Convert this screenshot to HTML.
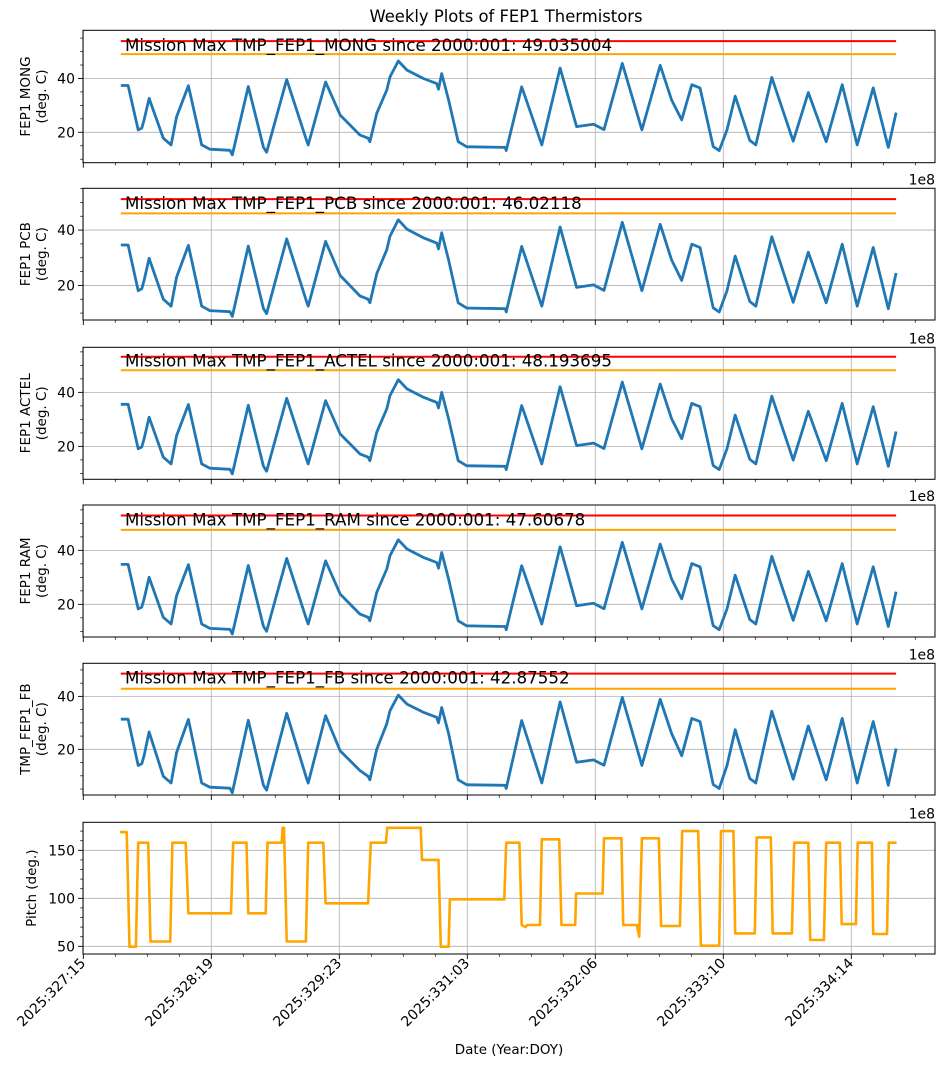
<!DOCTYPE html>
<html><head><meta charset="utf-8">
<style>
html,body{margin:0;padding:0;background:#fff;}
svg{display:block;font-family:"DejaVu Sans","Liberation Sans",sans-serif;}
</style></head>
<body>
<svg id="fig" width="944" height="1066" viewBox="0 0 944 1066" xmlns="http://www.w3.org/2000/svg">
<rect width="944" height="1066" fill="#fff"/>
<text x="506" y="22" font-size="16.4" text-anchor="middle">Weekly Plots of FEP1 Thermistors</text>
<text x="509" y="1054" font-size="13.5" text-anchor="middle">Date (Year:DOY)</text>
</svg>
<script>
// hours since 2025:327:15
const tempTimes = [8.2,9.8,12.0,12.8,13.3,14.4,17.5,19.2,20.4,23.0,25.9,27.7,32.1,32.6,36.1,39.4,40.1,44.5,48.9,49.2,53.0,56.2,60.5,62.3,62.7,64.2,66.4,67.1,68.9,70.8,74.4,77.3,77.7,78.4,79.9,82.0,83.9,84.6,92.3,92.5,95.9,100.3,104.3,107.9,111.6,113.9,117.9,122.2,126.2,128.7,130.9,133.1,134.9,137.8,139.1,140.8,142.6,145.8,147.1,150.6,155.3,158.6,162.5,166.0,169.3,172.8,176.1,177.8];
const mongValues = [37.4,37.4,20.9,21.6,24.6,32.6,17.8,15.3,25.8,37.3,15.3,13.7,13.3,11.6,37.0,14.5,12.6,39.6,16.7,15.3,38.7,26.4,19.0,17.8,16.5,27.1,35.7,40.6,46.5,43.1,40.0,38.1,36.0,41.8,32.0,16.5,14.6,14.6,14.4,13.2,36.9,15.3,43.9,22.1,23.0,21.0,45.6,20.9,44.9,32.0,24.6,37.7,36.5,14.7,13.2,20.9,33.4,17.0,15.3,40.4,16.7,34.8,16.5,37.7,15.3,36.5,14.4,27.3];
const pcbValues = [34.6,34.6,18.1,18.8,21.8,29.8,15.0,12.5,23.0,34.5,12.5,10.9,10.5,8.8,34.2,11.7,9.8,36.8,13.9,12.5,35.9,23.6,16.2,15.0,13.7,24.3,32.9,37.8,43.7,40.3,37.2,35.3,33.2,39.0,29.2,13.7,11.8,11.8,11.6,10.4,34.1,12.5,41.1,19.3,20.2,18.2,42.8,18.1,42.1,29.2,21.8,34.9,33.7,11.9,10.4,18.1,30.6,14.2,12.5,37.6,13.9,32.0,13.7,34.9,12.5,33.7,11.6,24.5];
const actelValues = [35.6,35.6,19.1,19.8,22.8,30.8,16.0,13.5,24.0,35.5,13.5,11.9,11.5,9.8,35.2,12.7,10.8,37.8,14.9,13.5,36.9,24.6,17.2,16.0,14.7,25.3,33.9,38.8,44.7,41.3,38.2,36.3,34.2,40.0,30.2,14.7,12.8,12.8,12.6,11.4,35.1,13.5,42.1,20.3,21.2,19.2,43.8,19.1,43.1,30.2,22.8,35.9,34.7,12.9,11.4,19.1,31.6,15.2,13.5,38.6,14.9,33.0,14.7,35.9,13.5,34.7,12.6,25.5];
const ramValues = [34.8,34.8,18.3,19.0,22.0,30.0,15.2,12.7,23.2,34.7,12.7,11.1,10.7,9.0,34.4,11.9,10.0,37.0,14.1,12.7,36.1,23.8,16.4,15.2,13.9,24.5,33.1,38.0,43.9,40.5,37.4,35.5,33.4,39.2,29.4,13.9,12.0,12.0,11.8,10.6,34.3,12.7,41.3,19.5,20.4,18.4,43.0,18.3,42.3,29.4,22.0,35.1,33.9,12.1,10.6,18.3,30.8,14.4,12.7,37.8,14.1,32.2,13.9,35.1,12.7,33.9,11.8,24.7];
const fbValues = [31.4,31.4,13.9,14.6,17.6,26.6,9.8,7.3,18.8,31.3,7.3,5.7,5.3,3.6,31.0,6.5,4.6,33.6,8.7,7.3,32.7,19.4,12.0,9.8,8.5,20.1,29.7,34.6,40.5,37.1,34.0,32.1,30.0,35.8,26.0,8.5,6.6,6.6,6.4,5.2,30.9,7.3,37.9,15.1,16.0,14.0,39.6,13.9,38.9,26.0,17.6,31.7,30.5,6.7,5.2,13.9,27.4,9.0,7.3,34.4,8.7,28.8,8.5,31.7,7.3,30.5,6.4,20.3];
const pitchTimes = [8.0,9.5,10.1,11.5,12.0,14.2,14.7,19.0,19.5,22.4,23.0,32.3,32.8,35.7,36.1,39.9,40.3,43.4,43.6,43.9,44.5,48.7,49.2,52.5,53.0,62.3,62.9,66.2,66.5,73.8,74.1,77.7,78.2,79.9,80.2,92.1,92.5,95.4,95.9,96.7,97.1,99.9,100.3,104.1,104.6,107.6,107.8,113.6,113.9,117.7,118.1,121.1,121.6,122.2,125.9,126.4,130.5,131.0,134.5,135.1,139.1,139.5,142.2,142.6,146.9,147.3,150.4,150.8,155.0,155.5,158.6,159.0,162.0,162.5,165.5,165.9,169.0,169.4,172.5,172.8,175.8,176.2,177.9];
const pitchValues = [169,169,49.6,49.6,158,158,55,55,158,158,84.4,84.4,158,158,84.4,84.4,158,158,173.5,173.5,55,55,158,158,94.8,94.8,158,158,173.5,173.5,140,140,49.6,49.6,99,99,158,158,72.2,70,72.2,72.2,161.5,161.5,72.2,72.2,105,105,162.5,162.5,72.2,72.2,60,162.5,162.5,71.2,71.2,170,170,50.6,50.6,170,170,63.5,63.5,163.5,163.5,63.5,63.5,158,158,56.6,56.6,158,158,73.2,73.2,158,158,62.8,62.8,158,158];
const majorTickHours = [0,28,56,84,112,140,168];
const majorTickLabels = ["2025:327:15","2025:328:19","2025:329:23","2025:331:03","2025:332:06","2025:333:10","2025:334:14"];
const panelNames = ["FEP1 MONG","FEP1 PCB","FEP1 ACTEL","FEP1 RAM","TMP_FEP1_FB"];
const missionMaxLabels = ["TMP_FEP1_MONG","TMP_FEP1_PCB","TMP_FEP1_ACTEL","TMP_FEP1_RAM","TMP_FEP1_FB"];
const missionMaxValues = [49.035004,46.02118,48.193695,47.60678,42.87552];
const redLimitValues = [53.9,51.2,53.2,52.9,48.6];

const NS="http://www.w3.org/2000/svg";
const svg=document.getElementById('fig');
const X0=83.3, PXH=128/28, AXL=83, AXR=935;
function xs(h){return X0+h*PXH;}
function mk(tag,attrs,parent){const e=document.createElementNS(NS,tag);for(const k in attrs)e.setAttribute(k,attrs[k]);(parent||svg).appendChild(e);return e;}

const panels=[
 {top:30.3,bot:162.7,ymin:8.7,ymax:57.9,major:[20,40],minorStep:5,vals:mongValues},
 {top:188.3,bot:320,ymin:7.5,ymax:55.1,major:[20,40],minorStep:5,vals:pcbValues},
 {top:347.3,bot:479.3,ymin:7.8,ymax:56.7,major:[20,40],minorStep:5,vals:actelValues},
 {top:505,bot:637,ymin:7.9,ymax:56.8,major:[20,40],minorStep:5,vals:ramValues},
 {top:663.3,bot:795,ymin:2.75,ymax:52.5,major:[20,40],minorStep:5,vals:fbValues},
 {top:822.3,bot:954,ymin:42,ymax:179.2,major:[50,100,150],minorStep:10,vals:null}
];

panels.forEach((p,i)=>{
  const ys=v=>p.bot-(v-p.ymin)/(p.ymax-p.ymin)*(p.bot-p.top);
  const g=mk('g',{});
  
  
  majorTickHours.forEach(h=>{
    const l=mk('line',{x1:xs(h),x2:xs(h),y1:p.top,y2:p.bot,stroke:'#b0b0b0','stroke-width':0.8},g);
    
    
  });
  p.major.forEach(v=>{
    const l=mk('line',{x1:AXL,x2:AXR,y1:ys(v),y2:ys(v),stroke:'#b0b0b0','stroke-width':0.8},g);
    
    
  });
  if(p.vals){
    const r=mk('line',{x1:xs(tempTimes[0]),x2:xs(tempTimes[tempTimes.length-1]),y1:ys(redLimitValues[i]),y2:ys(redLimitValues[i]),stroke:'#ff0000','stroke-width':2},g);
    
    
    const o=mk('line',{x1:xs(tempTimes[0]),x2:xs(tempTimes[tempTimes.length-1]),y1:ys(missionMaxValues[i]),y2:ys(missionMaxValues[i]),stroke:'#ffa500','stroke-width':2},g);
    
    
    const t=mk('text',{x:125,y:ys(redLimitValues[i])+10,'font-size':16.7},g);
    t.textContent='Mission Max '+missionMaxLabels[i]+' since 2000:001: '+missionMaxValues[i];
    
    
    const d=p.vals.map((v,k)=>(k?'L':'M')+xs(tempTimes[k]).toFixed(1)+','+ys(v).toFixed(1)).join('');
    const pl=mk('path',{d:d,fill:'none',stroke:'#1f77b4','stroke-width':2.8,'stroke-linejoin':'round'},g);
    
    
  } else {
    const d=pitchValues.map((v,k)=>(k?'L':'M')+xs(pitchTimes[k]).toFixed(1)+','+ys(v).toFixed(1)).join('');
    const pl=mk('path',{d:d,fill:'none',stroke:'#ffa500','stroke-width':2.6,'stroke-linejoin':'round'},g);
    
    
  }
  const fr=mk('rect',{x:AXL,y:p.top,width:AXR-AXL,height:p.bot-p.top,fill:'none',stroke:'#000','stroke-width':1},g);
  
  
  const startMinor=Math.ceil(p.ymin/p.minorStep)*p.minorStep;
  for(let v=startMinor;v<=p.ymax;v+=p.minorStep){
    const isMaj=p.major.includes(v);
    mk('line',{x1:AXL,x2:AXL-(isMaj?5:2.8),y1:ys(v),y2:ys(v),stroke:'#000','stroke-width':isMaj?0.9:0.7},g);
  }
  p.major.forEach(v=>{
    const t=mk('text',{x:AXL-8,y:ys(v)+5,'font-size':14,'text-anchor':'end'},g);
    t.textContent=v;
    
    
  });
  for(let h=0;h<=(AXR-X0)/PXH;h+=7){
    const isMaj=h%28===0;
    mk('line',{x1:xs(h),x2:xs(h),y1:p.bot,y2:p.bot+(isMaj?5:2.8),stroke:'#000','stroke-width':isMaj?0.9:0.7},g);
  }
  const cy=(p.top+p.bot)/2;
  const yt=mk('text',{transform:'translate(30,'+cy+') rotate(-90)','font-size':13.5,'text-anchor':'middle'},g);
  
  
  if(p.vals){
    mk('tspan',{x:0,y:0},yt).textContent=panelNames[i];
    mk('tspan',{x:0,y:16},yt).textContent='(deg. C)';
  } else {
    yt.setAttribute('transform','translate(36,'+cy+') rotate(-90)');
    yt.textContent='Pitch (deg.)';
  }
  if(i>0){
    const ot=mk('text',{x:AXR,y:p.top-4,'font-size':14,'text-anchor':'end'},g);
    ot.textContent='1e8';
    
    
  }
});
majorTickHours.forEach((h,k)=>{
  const x=xs(h)+3, y=964;
  const t=mk('text',{transform:'translate('+x+','+y+') rotate(-45)','font-size':14,'text-anchor':'end'});
  t.textContent=majorTickLabels[k];
  
  
});
</script>
</body></html>
